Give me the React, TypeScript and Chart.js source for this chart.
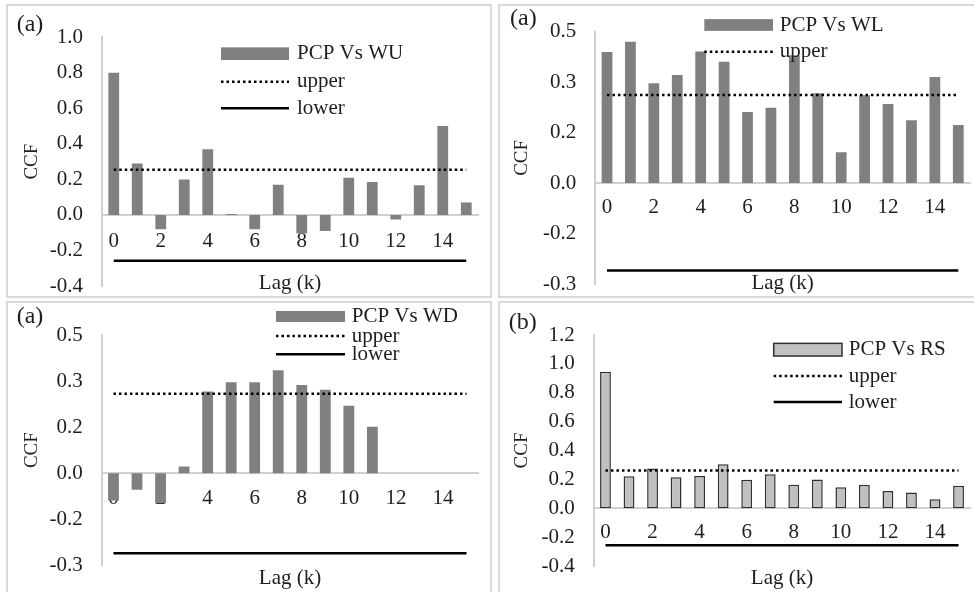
import React, { useEffect, useRef } from 'react';
import { Chart, registerables } from 'chart.js';

Chart.register(...registerables);

// ---------- data ----------
const lags = ['0', '1', '2', '3', '4', '5', '6', '7', '8', '9', '10', '11', '12', '13', '14', '15'];

const wuCCF = [0.8, 0.29, -0.08, 0.2, 0.37, 0.005, -0.08, 0.17, -0.105, -0.09, 0.21, 0.185, -0.025, 0.167, 0.5, 0.07];
const wlCCF = [0.39, 0.42, 0.297, 0.321, 0.391, 0.361, 0.211, 0.224, 0.38, 0.267, 0.092, 0.261, 0.235, 0.187, 0.315, 0.173];
const wdCCF = [-0.089, -0.054, -0.098, 0.022, 0.266, 0.296, 0.296, 0.335, 0.287, 0.272, 0.22, 0.151, null, null, null, null];
const rsCCF = [0.946, 0.222, 0.275, 0.215, 0.224, 0.305, 0.197, 0.236, 0.162, 0.199, 0.146, 0.162, 0.12, 0.109, 0.062, 0.155];

const wuBounds = [0.254, -0.258];
const wlBounds = [0.262, -0.26];
const wdBounds = [0.259, -0.261];
const rsBounds = [0.261, -0.257];

const yTicksWU = [-0.4, -0.2, 0, 0.2, 0.4, 0.6, 0.8, 1.0];
const yTicksWL = [-0.3, -0.15, 0, 0.15, 0.3, 0.45];
const yTicksWD = [-0.3, -0.15, 0, 0.15, 0.3, 0.45];
const yTicksRS = [-0.4, -0.2, 0, 0.2, 0.4, 0.6, 0.8, 1.0, 1.2];

const seriesNames = ['PCP Vs WU', 'PCP Vs WL', 'PCP Vs WD', 'PCP Vs RS'];
const boundNames = ['upper', 'lower'];
const panelTags = ['(a)', '(a)', '(a)', '(b)'];

// ---------- style ----------
const FONT = '"Liberation Serif", "Times New Roman", serif';
const TEXT = '#1e1e1e';
const AXIS = '#d0d0d0';
const PANEL_BORDER = '#d9d9d9';

function fmtExcel(v: number): string {
  const r = Math.round(Math.abs(v) * 10 + 1e-9) / 10;
  return (v < 0 && r !== 0 ? '-' : '') + r.toFixed(1);
}

type Spec = {
  values: (number | null)[];
  bounds: number[];
  yTicks: number[];
  name: string;
  tag: string;
  barFill: string;
  barBorder: string;
  barBorderWidth: number;
  legendCount: number;
  box: { left: number; top: number; w: number; h: number };
  frame: { left: number; top: number; w: number; h: number };
  area: { left: number; top: number; right: number; bottom: number };
  tagX: number;
  tagY: number;
  ccfX: number;
  lagY: number;
  xPad: number;
  leg: { x0: number; x1: number; tx: number; rows: number[]; sh: number };
};

const specs: Spec[] = [
  {
    values: wuCCF, bounds: wuBounds, yTicks: yTicksWU, name: seriesNames[0], tag: panelTags[0],
    barFill: '#808080', barBorder: '#808080', barBorderWidth: 0, legendCount: 3,
    box: { left: 6, top: 4, w: 486, h: 294 },
    frame: { left: 6, top: 4, w: 486, h: 294 },
    area: { left: 96, top: 33.3, right: 472, bottom: 282 },
    tagX: 10.7, tagY: 21, ccfX: 25.7, lagY: 279, xPad: 14,
    leg: { x0: 215, x1: 283, tx: 291, rows: [49.7, 77.7, 104.3], sh: 12.7 },
  },
  {
    values: wlCCF, bounds: wlBounds, yTicks: yTicksWL, name: seriesNames[1], tag: panelTags[1],
    barFill: '#808080', barBorder: '#808080', barBorderWidth: 0, legendCount: 2,
    box: { left: 498, top: 4, w: 476, h: 294 },
    frame: { left: 498, top: 4, w: 490, h: 294 },
    area: { left: 97.3, top: 27.7, right: 472, bottom: 280 },
    tagX: 12, tagY: 14.3, ccfX: 24, lagY: 279, xPad: 12,
    leg: { x0: 206.3, x1: 275, tx: 281.7, rows: [21, 47.7], sh: 11.7 },
  },
  {
    values: wdCCF, bounds: wdBounds, yTicks: yTicksWD, name: seriesNames[2], tag: panelTags[2],
    barFill: '#808080', barBorder: '#808080', barBorderWidth: 0, legendCount: 3,
    box: { left: 6, top: 301, w: 486, h: 291 },
    frame: { left: 6, top: 301, w: 486, h: 300 },
    area: { left: 95.7, top: 34, right: 472.3, bottom: 264.3 },
    tagX: 10.7, tagY: 15.7, ccfX: 25.7, lagY: 277.7, xPad: 13,
    leg: { x0: 270, x1: 339, tx: 345.7, rows: [15.5, 35, 53.3], sh: 11 },
  },
  {
    values: rsCCF, bounds: rsBounds, yTicks: yTicksRS, name: seriesNames[3], tag: panelTags[3],
    barFill: '#c0c0c0', barBorder: '#303030', barBorderWidth: 1.5, legendCount: 3,
    box: { left: 498, top: 301, w: 476, h: 291 },
    frame: { left: 498, top: 301, w: 490, h: 300 },
    area: { left: 95.7, top: 34, right: 472.3, bottom: 265 },
    tagX: 10.7, tagY: 21.7, ccfX: 24, lagY: 277.7, xPad: 12,
    leg: { x0: 275.7, x1: 344, tx: 350.7, rows: [48.7, 75, 101], sh: 12.7 },
  },
];

function makeDecor(spec: Spec) {
  return {
    id: 'decor',
    afterDraw(chart: any) {
      const ctx: CanvasRenderingContext2D = chart.ctx;
      const ca = chart.chartArea;
      ctx.save();
      ctx.fillStyle = TEXT;
      ctx.textBaseline = 'middle';
      // panel tag
      ctx.font = `24px ${FONT}`;
      ctx.textAlign = 'left';
      ctx.fillText(spec.tag, spec.tagX, spec.tagY);
      // y title
      ctx.save();
      ctx.translate(spec.ccfX, (ca.top + ca.bottom) / 2);
      ctx.rotate(-Math.PI / 2);
      ctx.font = `19px ${FONT}`;
      ctx.textAlign = 'center';
      ctx.fillText('CCF', 0, 0);
      ctx.restore();
      // x title
      ctx.font = `21px ${FONT}`;
      ctx.textAlign = 'center';
      ctx.fillText('Lag (k)', (ca.left + ca.right) / 2, spec.lagY);
      // legend
      const ds = chart.data.datasets;
      for (let i = 0; i < spec.legendCount; i++) {
        const d = ds[i];
        const y = spec.leg.rows[i];
        if (d.type === 'line') {
          ctx.save();
          ctx.strokeStyle = d.borderColor;
          ctx.lineWidth = d.borderWidth;
          ctx.setLineDash(d.borderDash || []);
          ctx.beginPath();
          ctx.moveTo(spec.leg.x0, y);
          ctx.lineTo(spec.leg.x1, y);
          ctx.stroke();
          ctx.restore();
        } else {
          const h = spec.leg.sh;
          ctx.fillStyle = d.backgroundColor;
          ctx.fillRect(spec.leg.x0, y - h / 2, spec.leg.x1 - spec.leg.x0, h);
          if (d.borderWidth) {
            ctx.strokeStyle = d.borderColor;
            ctx.lineWidth = d.borderWidth;
            ctx.strokeRect(spec.leg.x0, y - h / 2, spec.leg.x1 - spec.leg.x0, h);
          }
        }
        ctx.fillStyle = TEXT;
        ctx.font = `21px ${FONT}`;
        ctx.textAlign = 'left';
        ctx.fillText(d.label, spec.leg.tx, y);
      }
      ctx.restore();
    },
  };
}

function Panel({ spec }: { spec: Spec }) {
  const ref = useRef<HTMLCanvasElement>(null);
  useEffect(() => {
    if (!ref.current) return;
    const { area, box } = spec;
    const first = lags[0];
    const last = lags[lags.length - 1];
    const chart = new Chart(ref.current, {
      type: 'bar',
      data: {
        labels: lags,
        datasets: [
          {
            type: 'bar',
            label: spec.name,
            data: spec.values,
            backgroundColor: spec.barFill,
            borderColor: spec.barBorder,
            borderWidth: spec.barBorderWidth,
            borderSkipped: false,
            barPercentage: 0.46,
            categoryPercentage: 1,
            order: 2,
          } as any,
          {
            type: 'line',
            label: boundNames[0],
            data: [{ x: first, y: spec.bounds[0] }, { x: last, y: spec.bounds[0] }],
            borderColor: '#000000',
            borderWidth: 2.5,
            borderDash: [2.5, 3],
            pointRadius: 0,
            fill: false,
            order: 0,
          } as any,
          {
            type: 'line',
            label: boundNames[1],
            data: [{ x: first, y: spec.bounds[1] }, { x: last, y: spec.bounds[1] }],
            borderColor: '#000000',
            borderWidth: 2.5,
            pointRadius: 0,
            fill: false,
            order: 0,
          } as any,
        ],
      },
      options: {
        responsive: false,
        animation: false,
        devicePixelRatio: 1,
        layout: {
          padding: {
            left: 0,
            top: area.top,
            right: box.w - area.right,
            bottom: box.h - area.bottom,
          },
        },
        plugins: { legend: { display: false }, tooltip: { enabled: false } },
        scales: {
          x: {
            type: 'category',
            position: { y: 0 } as any,
            offset: true,
            grid: { display: false, drawTicks: false },
            border: { display: true, color: AXIS, width: 2 },
            ticks: {
              autoSkip: false,
              maxRotation: 0,
              minRotation: 0,
              padding: spec.xPad,
              color: TEXT,
              font: { family: FONT, size: 21 },
              callback: (_v: any, i: number) => (i % 2 === 0 ? lags[i] : ''),
            },
            afterFit: (s: any) => {
              s.height = 0;
              s.paddingLeft = 0;
              s.paddingRight = 0;
              s.paddingTop = 0;
              s.paddingBottom = 0;
            },
          },
          y: {
            type: 'linear',
            position: 'left',
            min: spec.yTicks[0],
            max: spec.yTicks[spec.yTicks.length - 1],
            grid: { display: false, drawTicks: false },
            border: { display: true, color: AXIS, width: 2 },
            ticks: {
              padding: 19,
              color: TEXT,
              font: { family: FONT, size: 21 },
              callback: (v: any) => fmtExcel(Number(v)),
            },
            afterBuildTicks: (s: any) => {
              s.ticks = spec.yTicks.map((v) => ({ value: v }));
            },
            afterFit: (s: any) => {
              s.width = area.left;
              s.paddingLeft = 0;
              s.paddingRight = 0;
              s.paddingTop = 0;
              s.paddingBottom = 0;
            },
          },
        } as any,
      },
      plugins: [makeDecor(spec)],
    });
    return () => chart.destroy();
  }, [spec]);

  return (
    <>
      <div style={{ position: 'absolute', left: spec.box.left, top: spec.box.top, width: spec.box.w, height: spec.box.h }}>
        <canvas ref={ref} width={spec.box.w} height={spec.box.h} style={{ display: 'block' }} />
      </div>
      <div
        style={{
          position: 'absolute',
          left: spec.frame.left,
          top: spec.frame.top,
          width: spec.frame.w,
          height: spec.frame.h,
          border: `2px solid ${PANEL_BORDER}`,
          boxSizing: 'border-box',
          pointerEvents: 'none',
        }}
      />
    </>
  );
}

export default function App() {
  return (
    <div
      style={{
        position: 'absolute',
        left: 0,
        top: 0,
        width: 974,
        height: 592,
        overflow: 'hidden',
        background: '#ffffff',
      }}
    >
      {specs.map((s, i) => (
        <Panel key={i} spec={s} />
      ))}
    </div>
  );
}
